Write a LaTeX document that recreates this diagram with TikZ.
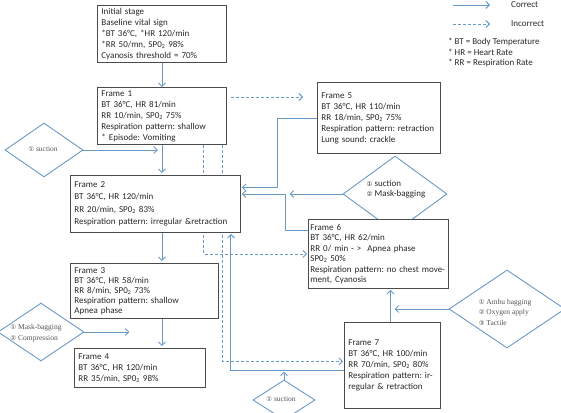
\documentclass[tikz,border=0pt]{standalone}
\usepackage{fontspec}
\setmainfont{Carlito}
\newfontfamily\serifd{Liberation Serif}
\newfontfamily\symf{DejaVu Sans}
\usetikzlibrary{arrows.meta,shapes.geometric}
\pgfdeclarelayer{bg}
\pgfsetlayers{bg,main}
\frenchspacing
\definecolor{lnc}{RGB}{104,154,200}
\definecolor{boxc}{RGB}{75,75,75}
\definecolor{txt}{RGB}{40,40,40}
\definecolor{dtxt}{RGB}{85,85,85}
\newcommand\cn[1]{{\symf\fontsize{6.5}{7}\selectfont #1}}
\newcommand\spo{SP0\textsubscript{2}}
\tikzset{
  frame/.style={draw=boxc, line width=0.9pt, fill=white, anchor=north west,
    align=left, inner xsep=4pt, inner ysep=2pt, text=txt,
    font=\frenchspacing\fontsize{9}{11}\selectfont},
  dia/.style={draw=lnc, line width=0.9pt, shape=diamond, inner sep=0pt, fill=white},
  dtext/.style={align=left, text=dtxt, inner sep=0pt, font=\serifd\fontsize{7.5}{11}\selectfont},
  conn/.style={draw=lnc, line width=0.9pt, -{Straight Barb[length=3.5pt,width=7pt]}},
  wrong/.style={conn, dash pattern=on 3pt off 2pt},
  legtext/.style={anchor=west, text=txt, inner sep=0pt, font=\fontsize{9}{10.5}\selectfont}
}
\begin{document}
\begin{tikzpicture}[x=1pt,y=-1pt]
\useasboundingbox (0,0) rectangle (561,412);
% diamonds
\node[dia, minimum width=78pt, minimum height=54pt] (d1) at (44,150) {};
\node[dia, minimum width=104pt, minimum height=76pt] (d2) at (395,194) {};
\node[dia, minimum width=86pt, minimum height=58pt] (d3) at (41,332) {};
\node[dia, minimum width=116pt, minimum height=78pt] (d4) at (507,309) {};
\node[dia, minimum width=62pt, minimum height=40pt] (d5) at (284,400) {};
\node[dtext] (d1t) at (43,149) {\cn{①} suction};
\node[dtext, text=txt, font=\fontsize{9}{10.5}\selectfont] (d2t) at (396,189) {\cn{①} suction\\\cn{②} Mask-bagging};
\node[dtext] (d3t) at (36,333) {\cn{①} Mask-bagging\\\cn{②} Compression};
\node[dtext, font=\serifd\fontsize{7.5}{10.5}\selectfont] (d4t) at (505,312) {\cn{①} Ambu bagging\\\cn{②} Oxygen apply\\\cn{③} Tactile};
\node[dtext] (d5t) at (281,399) {\cn{①} suction};
% frames
\node[frame, minimum width=129pt, minimum height=57pt, text width=121pt] (init) at (97,5)
  {Initial stage\\Baseline vital sign\\{*}BT 36°C, *HR 120/min\\{*}RR 50/mn, \spo{} 98\%\\Cyanosis threshold = 70\%};
\node[frame, minimum width=129pt, minimum height=57pt, text width=121pt] (f1) at (97,87)
  {Frame 1\\BT 36°C, HR 81/min\\RR 10/min, \spo{} 75\%\\Respiration pattern: shallow\\{*} Episode: Vomiting};
\node[frame, minimum width=123pt, minimum height=71pt, text width=115pt] (f5) at (317,82)
  {Frame 5\\BT 36°C, HR 110/min\\RR 18/min, \spo{} 75\%\\Respiration pattern: retraction\\Lung sound: crackle};
\node[frame, minimum width=170pt, minimum height=57pt, text width=162pt, font=\frenchspacing\fontsize{9}{12.3}\selectfont] (f2) at (70,175)
  {Frame 2\\BT 36°C, HR 120/min\\RR 20/min, \spo{} 83\%\\Respiration pattern: irregular \&retraction};
\node[frame, minimum width=140pt, minimum height=69pt, inner xsep=2pt, text width=136pt, font=\frenchspacing\fontsize{9}{10.5}\selectfont] (f6) at (308,219)
  {Frame 6\\BT 36°C, HR 62/min\\RR 0/ min - >\ \ Apnea phase\\\spo{} 50\%\\Respiration pattern: no chest move-\\ment, Cyanosis};
\node[frame, minimum width=148pt, minimum height=55pt, text width=140pt, font=\frenchspacing\fontsize{9}{10}\selectfont] (f3) at (70,263)
  {Frame 3\\BT 36°C, HR 58/min\\RR 8/min, \spo{} 73\%\\Respiration pattern: shallow\\Apnea phase};
\node[frame, minimum width=131pt, minimum height=39pt, text width=123pt] (f4) at (74,348)
  {Frame 4\\BT 36°C, HR 120/min\\RR 35/min, \spo{} 98\%};
\node[frame, minimum width=96pt, minimum height=86pt, text width=88pt] (f7) at (344,322)
  {Frame 7\\BT 36°C, HR 100/min\\RR 70/min, \spo{} 80\%\\Respiration pattern: ir-\\regular \& retraction};
% legend
\coordinate (l1a) at (453,5);
\coordinate (l1b) at (490,5);
\coordinate (l2a) at (453,24);
\coordinate (l2b) at (490,24);
\node[legtext] (lc) at (511,5) {Correct};
\node[legtext] (li) at (511,24) {Incorrect};
\node[legtext, anchor=north west, align=left] (fn) at (448,38)
  {* BT = Body Temperature\\{*} HR = Heart Rate\\{*} RR = Respiration Rate};
\begin{pgfonlayer}{bg}
\draw[conn] (l1a) -- (l1b);
\draw[wrong] (l2a) -- (l2b);
\draw[conn] (init.south) -- (f1.north);
\draw[conn, shorten >=2pt] (f1.south) -- (f1.south |- f2.north);
\draw[conn, shorten >=2pt] (f1.south |- f2.south) -- (f1.south |- f3.north);
\draw[conn, shorten >=2pt] (f1.south |- f3.south) -- (f1.south |- f4.north);
\draw[conn] (d1.east) -- ([xshift=-4pt]f1.south |- d1.east);
\draw[conn] (d3.east) -- ++(45,0);
\draw[wrong, shorten <=4pt, shorten >=14pt] ([yshift=-10pt]f1.north east) -- ([yshift=-10pt]f1.north east -| f5.west);
\draw[conn, shorten >=1pt] (f5.west) -- ++(-40,0) |- ([yshift=16.5pt]f2.east);
\draw[conn, shorten >=1pt] ([yshift=23.5pt]f6.west) -- ++(-23,0) |- ([yshift=10pt]f2.east);
\draw[conn] (d2.west) -- ++(-53,0);
\draw[wrong, shorten >=1pt] ([xshift=-23pt]f1.south east) |- (f6.west);
\draw[wrong, shorten >=1pt] ([xshift=-4pt]f1.south east) |- ([yshift=4pt]f7.west);
\draw[conn, shorten >=1pt] ([yshift=-5pt]f7.west) -| ([xshift=-10pt]f2.south east);
\draw[conn, shorten >=1pt] ([xshift=-2pt]f7.north) -- ([xshift=-2pt]f7.north |- f6.south);
\draw[conn] (d4.west) -- ++(-54,0);
\draw[conn] (d5.north) -- ++(0,-8);
\end{pgfonlayer}
\end{tikzpicture}
\end{document}
